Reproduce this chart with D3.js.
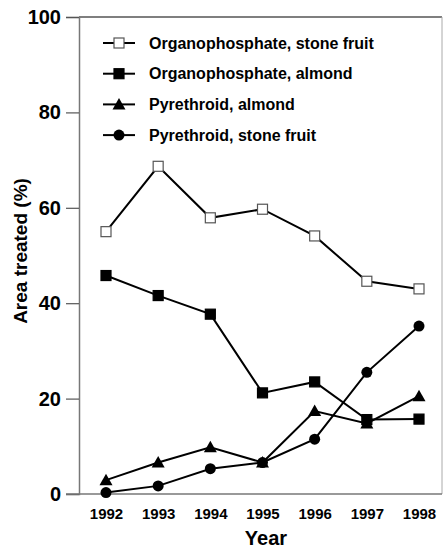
<!DOCTYPE html>
<html>
<head>
<meta charset="utf-8">
<script src="https://cdn.jsdelivr.net/npm/d3@7"></script>
<style>
  body { margin: 0; background: #fff; }
  text { font-family: "Liberation Sans", Arial, sans-serif; font-weight: bold; }
</style>
</head>
<body>
<svg width="443" height="548"></svg>
<script>
// dades llegides del grafic
var anys = [1992, 1993, 1994, 1995, 1996, 1997, 1998];
var opFruita = [55, 68.7, 57.9, 59.7, 54.1, 44.6, 43.0];
var opAmetlla = [45.8, 41.6, 37.7, 21.2, 23.5, 15.6, 15.7];
var pirAmetlla = [2.9, 6.6, 9.8, 6.6, 17.4, 14.8, 20.5];
var pirFruita = [0.3, 1.7, 5.3, 6.6, 11.5, 25.5, 35.2];
var ticksY = [0, 20, 40, 60, 80, 100];

var series = [
  { nom: "Organophosphate, stone fruit", valors: opFruita, simbol: "quadreBuit" },
  { nom: "Organophosphate, almond", valors: opAmetlla, simbol: "quadre" },
  { nom: "Pyrethroid, almond", valors: pirAmetlla, simbol: "triangle" },
  { nom: "Pyrethroid, stone fruit", valors: pirFruita, simbol: "cercle" }
];

var svg = d3.select("svg");

// escales
var x = d3.scaleLinear().domain([1992, 1998]).range([106, 419]);
var y = d3.scaleLinear().domain([0, 100]).range([494, 17]);

// marc del grafic
svg.append("line").attr("x1", 79).attr("x2", 442).attr("y1", 17).attr("y2", 17)
  .style("stroke", "#555").style("stroke-width", 1.5);
svg.append("line").attr("x1", 442).attr("x2", 442).attr("y1", 17).attr("y2", 494)
  .style("stroke", "#aaa").style("stroke-width", 1);

// eix Y
var eixY = svg.append("g").attr("transform", "translate(79,0)")
  .call(d3.axisLeft(y).tickValues(ticksY).tickSize(13).tickPadding(5));
eixY.select(".domain").style("stroke", "#777").style("stroke-width", 1.5);
eixY.selectAll(".tick line").style("stroke", "#555").style("stroke-width", 1.2);
eixY.selectAll(".tick text").style("font-size", "20px").style("fill", "#000")
  .style("font-family", "'Liberation Sans', Arial, sans-serif").style("font-weight", "bold");

// eix X
var eixX = svg.append("g").attr("transform", "translate(0,494)")
  .call(d3.axisBottom(x).tickValues(anys).tickFormat(d3.format("d")).tickSize(0).tickPadding(14));
eixX.select(".domain").attr("d", "M66,0H442").style("stroke", "#777").style("stroke-width", 1.5);
eixX.selectAll(".tick text").style("font-size", "15px").style("fill", "#000")
  .style("font-family", "'Liberation Sans', Arial, sans-serif").style("font-weight", "bold");

// titols dels eixos
svg.append("text").attr("x", 266).attr("y", 545).attr("text-anchor", "middle")
  .style("font-size", "20px").text("Year");
svg.append("text").attr("transform", "translate(27,251) rotate(-90)").attr("text-anchor", "middle")
  .style("font-size", "19px").text("Area treated (%)");

//funcio que dibuixa un simbol
function dibuixarSimbol(g, tipus, cx, cy) {
  if (tipus == "quadreBuit" || tipus == "quadre") {
    g.append("rect").attr("x", cx - 5).attr("y", cy - 5).attr("width", 10).attr("height", 10)
      .style("fill", tipus == "quadre" ? "#000" : "#fff")
      .style("stroke", tipus == "quadre" ? "#000" : "#555").style("stroke-width", 1.2);
  } else if (tipus == "triangle") {
    g.append("path").attr("transform", `translate(${cx},${cy})`)
      .attr("d", "M0,-6.5L6.5,5L-6.5,5Z").style("fill", "#000");
  } else {
    g.append("circle").attr("cx", cx).attr("cy", cy).attr("r", 5.5).style("fill", "#000");
  }
}

var linia = d3.line().x(d => x(d[0])).y(d => y(d[1]));

series.forEach(function (s) {
  var punts = anys.map((a, i) => [a, s.valors[i]]);
  svg.append("path").attr("d", linia(punts))
    .style("fill", "none").style("stroke", "#000").style("stroke-width", 2);
});
series.forEach(function (s) {
  var g = svg.append("g");
  anys.forEach((a, i) => dibuixarSimbol(g, s.simbol, x(a), y(s.valors[i])));
});

// llegenda
series.forEach(function (s, i) {
  var ly = 43 + i * 30.7;
  var g = svg.append("g");
  g.append("line").attr("x1", 103).attr("x2", 135).attr("y1", ly).attr("y2", ly)
    .style("stroke", "#000").style("stroke-width", 2);
  dibuixarSimbol(g, s.simbol, 119, ly);
  g.append("text").attr("x", 149).attr("y", ly + 5.5).style("font-size", "16px").text(s.nom);
});
</script>
</body>
</html>
